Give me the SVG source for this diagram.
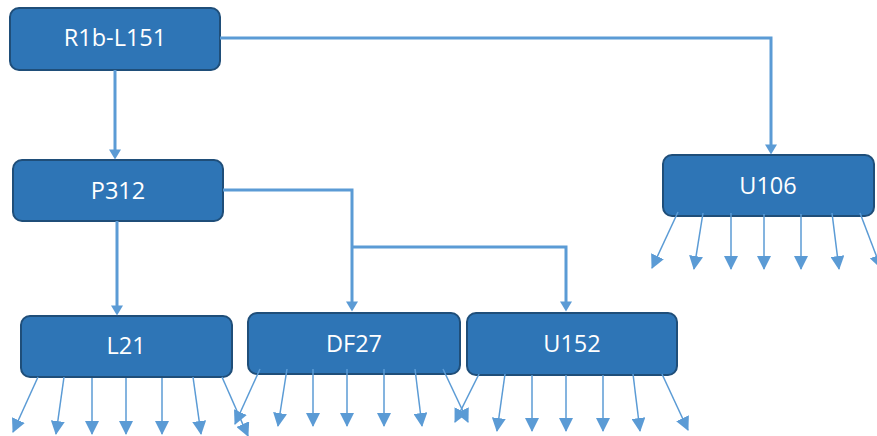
<svg xmlns="http://www.w3.org/2000/svg" width="877" height="436" viewBox="0 0 877 436">
<style>
.box{fill:#2E75B6;stroke:#1F4E79;stroke-width:2}
.lbl{fill:#FFFFFF;font-family:"Open Sans","Liberation Sans",sans-serif;font-size:23.5px;text-anchor:middle}
.main{fill:none;stroke:#5B9BD5;stroke-width:3}
.fan{fill:none;stroke:#5B9BD5;stroke-width:1.5}
</style>
<defs>
<marker id="big" markerUnits="userSpaceOnUse" markerWidth="12" markerHeight="12" viewBox="0 0 10 12" refX="0.5" refY="6" orient="auto">
<path d="M0,0 L10,6 L0,12 z" fill="#5B9BD5"/>
</marker>
<marker id="small" markerUnits="userSpaceOnUse" markerWidth="14" markerHeight="14" viewBox="0 0 14 14" refX="13" refY="7" orient="auto">
<path d="M0,0 L14,7 L0,14 z" fill="#5B9BD5"/>
</marker>
</defs>
<g id="nodes">
<g id="R1b-L151"><rect class="box" x="10" y="8" width="210" height="62" rx="9"/><text class="lbl" x="115" y="46">R1b-L151</text></g>
<g id="P312"><rect class="box" x="13" y="160" width="210" height="61" rx="9"/><text class="lbl" x="118" y="199">P312</text></g>
<g id="U106"><rect class="box" x="663" y="155" width="211" height="61" rx="9"/><text class="lbl" x="768" y="194">U106</text></g>
<g id="L21"><rect class="box" x="21" y="316" width="211" height="61" rx="9"/><text class="lbl" x="126" y="354">L21</text></g>
<g id="DF27"><rect class="box" x="248" y="313" width="212" height="61" rx="9"/><text class="lbl" x="354" y="352">DF27</text></g>
<g id="U152"><rect class="box" x="467" y="313" width="210" height="62" rx="9"/><text class="lbl" x="572" y="352">U152</text></g>
</g>
<g id="connectors">
<path class="main" d="M220,38 H771 V145" marker-end="url(#big)"/>
<path class="main" d="M115,70 V150" marker-end="url(#big)"/>
<path class="main" d="M117,221 V306" marker-end="url(#big)"/>
<path class="main" d="M223,190 H352 V302" marker-end="url(#big)"/>
<path class="main" d="M352,247 H566 V302" marker-end="url(#big)"/>

<path class="fan" d="M38,377 L13,432" marker-end="url(#small)"/>
<path class="fan" d="M64,377 L56,434" marker-end="url(#small)"/>
<path class="fan" d="M92,378 L92,434" marker-end="url(#small)"/>
<path class="fan" d="M126,378 L126,434" marker-end="url(#small)"/>
<path class="fan" d="M162,378 L162,434" marker-end="url(#small)"/>
<path class="fan" d="M193,377 L201,434" marker-end="url(#small)"/>
<path class="fan" d="M222,377 L248,436" marker-end="url(#small)"/>

<path class="fan" d="M260,369 L235,424" marker-end="url(#small)"/>
<path class="fan" d="M287,369 L278,426" marker-end="url(#small)"/>
<path class="fan" d="M313,369 L313,426" marker-end="url(#small)"/>
<path class="fan" d="M347,369 L347,426" marker-end="url(#small)"/>
<path class="fan" d="M384,369 L384,426" marker-end="url(#small)"/>
<path class="fan" d="M415,369 L422,426" marker-end="url(#small)"/>
<path class="fan" d="M443,369 L468,422" marker-end="url(#small)"/>

<path class="fan" d="M479,374 L455,422" marker-end="url(#small)"/>
<path class="fan" d="M505,374 L497,431" marker-end="url(#small)"/>
<path class="fan" d="M532,375 L532,431" marker-end="url(#small)"/>
<path class="fan" d="M566,375 L566,431" marker-end="url(#small)"/>
<path class="fan" d="M603,375 L603,431" marker-end="url(#small)"/>
<path class="fan" d="M633,374 L640,431" marker-end="url(#small)"/>
<path class="fan" d="M662,374 L688,430" marker-end="url(#small)"/>

<path class="fan" d="M678,212 L652,268" marker-end="url(#small)"/>
<path class="fan" d="M703,213 L694,269" marker-end="url(#small)"/>
<path class="fan" d="M731,213 L731,269" marker-end="url(#small)"/>
<path class="fan" d="M764,214 L764,269" marker-end="url(#small)"/>
<path class="fan" d="M801,214 L801,269" marker-end="url(#small)"/>
<path class="fan" d="M832,213 L839,269" marker-end="url(#small)"/>
<path class="fan" d="M860,213 L881,268" marker-end="url(#small)"/>
</g>
</svg>
